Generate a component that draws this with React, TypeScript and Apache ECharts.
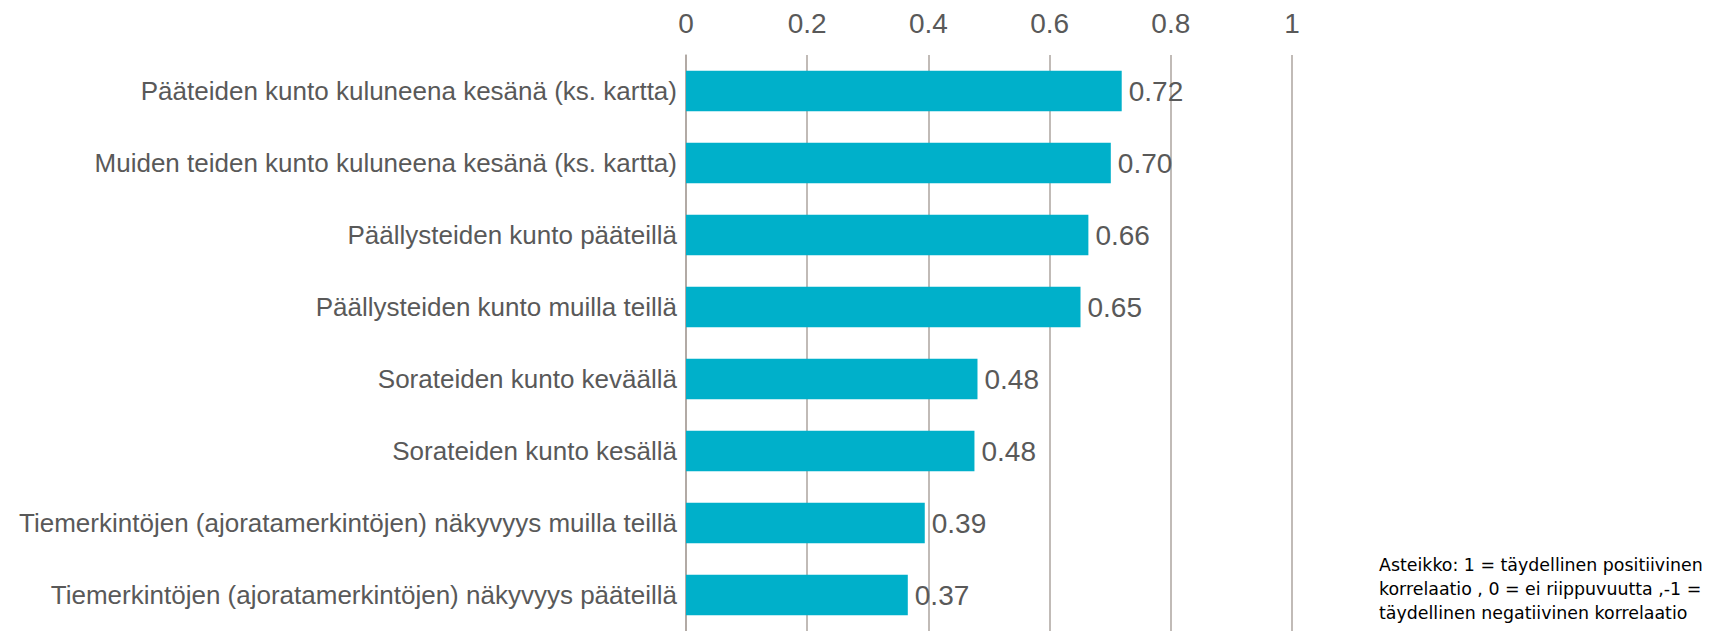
import React, { useEffect, useRef } from "react";
import * as echarts from "echarts";

const categories = [
  "Pääteiden kunto kuluneena kesänä (ks. kartta)",
  "Muiden teiden kunto kuluneena kesänä (ks. kartta)",
  "Päällysteiden kunto pääteillä",
  "Päällysteiden kunto muilla teillä",
  "Sorateiden kunto keväällä",
  "Sorateiden kunto kesällä",
  "Tiemerkintöjen (ajoratamerkintöjen) näkyvyys muilla teillä",
  "Tiemerkintöjen (ajoratamerkintöjen) näkyvyys pääteillä",
];
const values = [0.719, 0.701, 0.664, 0.651, 0.481, 0.476, 0.394, 0.366];
const xTicks = [0, 0.2, 0.4, 0.6, 0.8, 1];
const noteLines = [
  "Asteikko: 1 = täydellinen positiivinen",
  "korrelaatio , 0 = ei riippuvuutta ,-1 =",
  "täydellinen negatiivinen korrelaatio",
];

const FONT = "'Liberation Sans', Arial, sans-serif";

export default function App() {
  const ref = useRef<HTMLDivElement>(null);
  useEffect(() => {
    const chart = echarts.init(ref.current!, undefined, { renderer: "svg" });
    chart.setOption({
      animation: false,
      grid: { left: 686, right: 421, top: 55, height: 578, containLabel: false },
      xAxis: {
        type: "value",
        position: "top",
        min: 0,
        max: 1,
        interval: 0.2,
        axisLine: { show: false },
        axisTick: { show: false },
        splitLine: { show: true, lineStyle: { color: "#ADA59F", width: 1.5 } },
        axisLabel: {
          margin: 18,
          color: "#595959",
          fontFamily: FONT,
          fontSize: 28,
          formatter: (v: number) => (xTicks.includes(Math.round(v * 10) / 10) ? String(Math.round(v * 10) / 10) : ""),
        },
      },
      yAxis: {
        type: "category",
        inverse: true,
        data: categories,
        axisLine: { show: true, lineStyle: { color: "#ADA59F", width: 1.5 } },
        axisTick: { show: false },
        axisLabel: {
          margin: 9,
          color: "#595959",
          fontFamily: FONT,
          fontSize: 26,
          padding: [7, 0, 0, 0],
        },
      },
      series: [
        {
          type: "bar",
          data: values,
          barWidth: 40.5,
          itemStyle: { color: "#00B0CA" },
          label: {
            show: true,
            position: "right",
            distance: 7,
            color: "#595959",
            fontFamily: FONT,
            fontSize: 28,
            padding: [7, 0, 0, 0],
            formatter: (p: any) => p.value.toFixed(2),
          },
        },
      ],
      graphic: [
        {
          type: "text",
          left: 1379,
          top: 553,
          style: {
            text: noteLines.join("\n"),
            fontFamily: "'DejaVu Sans', Verdana, sans-serif",
            fontSize: 17.4,
            lineHeight: 24,
            fill: "#000000",
          },
        },
      ],
    });
    return () => chart.dispose();
  }, []);
  return (
    <div
      ref={ref}
      style={{ position: "fixed", left: 0, top: 0, width: 1713, height: 631, background: "#fff" }}
    />
  );
}
